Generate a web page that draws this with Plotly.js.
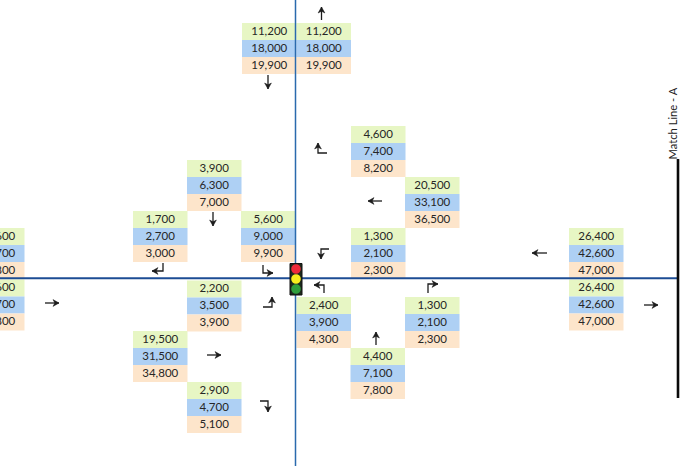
<!DOCTYPE html>
<html>
<head>
<meta charset="utf-8">
<script src="https://cdn.plot.ly/plotly-3.0.1.min.js"></script>
<style>
html,body{margin:0;padding:0;width:698px;height:466px;overflow:hidden;background:#fff}
#chart{position:absolute;left:-40px;top:0;width:738px;height:466px}
</style>
</head>
<body>
<div id="chart"></div>
<script>
// Traffic volumes, one array per row of each table (green, blue, orange)
var volumeGreen  = [11200,11200,4600,20500,1300,2400,1300,4400,26400,26400,3900,1700,5600,2200,19500,2900,16600,16600];
var volumeBlue   = [18000,18000,7400,33100,2100,3900,2100,7100,42600,42600,6300,2700,9000,3500,31500,4700,26700,26700];
var volumeOrange = [19900,19900,8200,36500,2300,4300,2300,7800,47000,47000,7000,3000,9900,3900,34800,5100,29800,29800];

// Where each table sits on the sheet
var tableLeft = [242,296.5,351,405,351,296.5,405,350.5,569,569,187,133,241,187,133,187,-30,-30];
var tableTop  = [23,23,126,177,228,297,297,348,228,279.5,160,211,211,280.5,331,382,228,279.5];
var cellW = 54.5, cellH = 17;
var rowFill = ['#e7f6c4','#aed0f4','#fde5cb'];
var rows = [volumeGreen, volumeBlue, volumeOrange];

// Movement arrows: polylines from tail to tip
var arrowX = [[321.5,321.5],[268,268],[327,318,318],[382,368],[329,321,321],[324,324,314],[428,428,438],[376,376],
              [547,532],[644,658],[213,213],[163,163,152],[263,263,273],[45,59],[263,272,272],[207,221],[260,268,268]];
var arrowY = [[20,7],[75,89],[153,153,143],[201,201],[249,249,259],[293,285,285],[293,284,284],[345,332],
              [253,253],[305,305],[212,226],[263,271,271],[265,273,273],[303,303],[307,307,297],[355,355],[401,401,412]];

var shapes = [];
rows.forEach(function (r, k) {
  tableLeft.forEach(function (l, i) {
    shapes.push({type:'rect', layer:'below', xref:'x', yref:'y', x0:l, x1:l+cellW,
      y0:tableTop[i]+k*cellH, y1:tableTop[i]+(k+1)*cellH, fillcolor:rowFill[k], line:{width:0}});
  });
});

// Road centre lines and match line
shapes.push({type:'line',xref:'x',yref:'y',x0:295.5,x1:295.5,y0:0,y1:466,line:{color:'#2a6aad',width:1.5}});
shapes.push({type:'line',xref:'x',yref:'y',x0:-40,x1:678,y0:278.3,y1:278.3,line:{color:'#1c4c94',width:2}});
shapes.push({type:'line',xref:'x',yref:'y',x0:678,x1:678,y0:159,y1:398,line:{color:'#0a0a0a',width:2.6}});

// Arrows
arrowX.forEach(function (xs, i) {
  var ys = arrowY[i], n = xs.length;
  var d = 'M' + xs.map(function (x, j) { return x + ',' + ys[j]; }).join(' L');
  shapes.push({type:'path',xref:'x',yref:'y',path:d,line:{color:'#1c1c1c',width:1.3}});
  var dx = Math.sign(xs[n-1]-xs[n-2]), dy = Math.sign(ys[n-1]-ys[n-2]);
  var tx = xs[n-1], ty = ys[n-1];
  var head = 'M'+tx+','+ty+' L'+(tx-dx*6-dy*3.4)+','+(ty-dy*6-dx*3.4)+' L'+(tx-dx*4.2)+','+(ty-dy*4.2)+
             ' L'+(tx-dx*6+dy*3.4)+','+(ty-dy*6+dx*3.4)+' Z';
  shapes.push({type:'path',xref:'x',yref:'y',path:head,fillcolor:'#1c1c1c',line:{color:'#1c1c1c',width:0.5}});
});

// Traffic signal
shapes.push({type:'rect',xref:'x',yref:'y',x0:290,x1:302,y0:263.5,y1:295,fillcolor:'#1d2a1d',line:{color:'#111',width:1}});
[[269,'#ee2a3a'],[279,'#f7ee1e'],[289,'#2f9e3c']].forEach(function (c) {
  shapes.push({type:'circle',xref:'x',yref:'y',x0:291.2,x1:300.8,y0:c[0]-4.8,y1:c[0]+4.8,fillcolor:c[1],line:{width:0}});
});

var traces = rows.map(function (r, k) {
  return {
    type:'scatter', mode:'text', hoverinfo:'none', showlegend:false, cliponaxis:false,
    x: tableLeft.map(function (l) { return l + cellW/2; }),
    y: tableTop.map(function (t) { return t + (k+0.5)*cellH + 0.6; }),
    text: r.map(function (v) { return v.toLocaleString('en-US'); }),
    textposition:'middle center',
    textfont:{family:'Lato, Carlito, sans-serif', size:11.5, color:'#262626'}
  };
});

var layout = {
  width:738, height:466, margin:{l:0,r:0,t:0,b:0},
  paper_bgcolor:'#fff', plot_bgcolor:'#fff', showlegend:false,
  xaxis:{range:[-40,698],visible:false,fixedrange:true},
  yaxis:{range:[466,0],visible:false,fixedrange:true},
  shapes:shapes,
  annotations:[{xref:'x',yref:'y',x:671.5,y:124,text:'Match Line - A',textangle:-90,showarrow:false,
    font:{family:'Lato, Carlito, sans-serif',size:11.2,color:'#222'}}]
};
Plotly.newPlot('chart', traces, layout, {staticPlot:true, displayModeBar:false});
</script>
</body>
</html>
